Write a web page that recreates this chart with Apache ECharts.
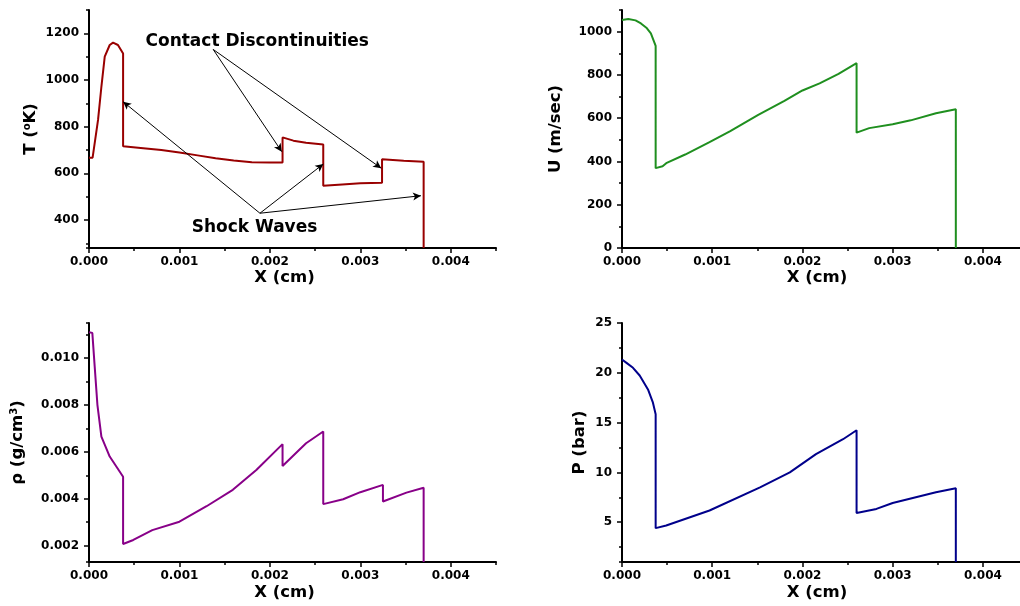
<!DOCTYPE html>
<html><head><meta charset="utf-8">
<script src="https://cdn.jsdelivr.net/npm/echarts@6/dist/echarts.min.js"></script>
<style>html,body{margin:0;padding:0;background:#fff}#c{width:1020px;height:606px}</style>
</head><body><div id="c"></div>
<script>
// ---------- data (x in cm) ----------
const tempData = [[0,667],[0.00004,667],[0.0001,829],[0.000137,971],[0.000174,1100],[0.000229,1150],[0.000266,1160],[0.00032,1150],[0.000377,1114],
  [0.000377,716],[0.0006,708],[0.0008,700],[0.001,689],[0.0012,677],[0.0014,665],[0.0016,655],[0.0018,648],[0.002,646],[0.00214,646],
  [0.00214,754],[0.00226,740],[0.0024,731],[0.00259,724],[0.00259,547],[0.0028,552],[0.003,557],[0.00324,560],
  [0.00324,660],[0.00348,654],[0.0037,650],[0.0037,280]];
const velData = [[0,1054],[0.00007,1058],[0.00015,1052],[0.00021,1038],[0.00027,1018],[0.00032,992],[0.000373,934],
  [0.000373,369],[0.00045,378],[0.00049,392],[0.0007,432],[0.00097,489],[0.0012,540],[0.00151,615],[0.0018,680],[0.002,728],[0.00219,761],[0.0024,805],[0.0026,854],
  [0.0026,533],[0.00274,554],[0.003,572],[0.0032,590],[0.00348,623],[0.0037,641],[0.0037,0]];
const rhoData = [[0,0.01111],[0.000037,0.01107],[0.000063,0.00964],[0.000093,0.00801],[0.000137,0.00665],[0.000229,0.0058],[0.000377,0.00494],
  [0.000377,0.00207],[0.00049,0.00224],[0.0007,0.00266],[0.001,0.00302],[0.0013,0.00368],[0.00159,0.00438],[0.00185,0.00523],[0.00214,0.00633],
  [0.00214,0.0054],[0.0024,0.00637],[0.00259,0.00687],[0.00259,0.00377],[0.00281,0.00398],[0.003,0.00428],[0.00325,0.00459],
  [0.00325,0.00388],[0.00351,0.00426],[0.0037,0.00447],[0.0037,0.0013]];
const presData = [[0,21.33],[0.00005,21.0],[0.000122,20.5],[0.000196,19.73],[0.000288,18.33],[0.000343,17.0],[0.000373,15.83],
  [0.000373,4.4],[0.00049,4.67],[0.00097,6.17],[0.00153,8.5],[0.00186,10.0],[0.00215,11.83],[0.00245,13.33],[0.0026,14.23],
  [0.0026,5.93],[0.00282,6.33],[0.003,6.93],[0.00348,8.0],[0.0037,8.4],[0.0037,1]];

// annotation arrows on T panel: [from, to] in data coords
const contactOrigin = [0.001373, 1131];
const contactTips = [[0.002131, 693],[0.003231, 622]];
const shockOrigin = [0.00189, 429];
const shockTips = [[0.000377, 907],[0.002591, 640],[0.00367, 504]];
const contactLabelPos = [0.00186, 1164];
const shockLabelPos = [0.00183, 369];

const xMin = 0, xMax = 0.0045, xMajor = 0.001, xMinor = 0.0005;
const panels = [
  {name:'T ({sup|o}K)', data: tempData, color:'#990000', min:280, max:1300, major:200, minor:100, dec:0, gap:49, showMin:false, showMax:false},
  {name:'U (m/sec)', data: velData, color:'#1f8f1f', min:0, max:1100, major:200, minor:100, dec:0, gap:57, showMin:true, showMax:false},
  {name:'ρ (g/cm{sup|3})', data: rhoData, color:'#880088', min:0.0013, max:0.0115, major:0.002, minor:0.001, dec:3, gap:62, showMin:false, showMax:false},
  {name:'P (bar)', data: presData, color:'#00008b', min:1, max:25, major:5, minor:2.5, dec:0, gap:33, showMin:false, showMax:true}
];

const FONT = 'DejaVu Sans';
const grids = [
  {left:89, top:10, right:524, bottom:358},
  {left:622, top:10, right:-8, bottom:358},
  {left:89, top:323, right:524, bottom:44},
  {left:622, top:323, right:-8, bottom:44}
].map(g => Object.assign({containLabel:false, outerBoundsMode:'none'}, g));

const titleStyle = {fontFamily:FONT, fontWeight:'bold', fontSize:16.5, color:'#000'};
const noteStyle = {fontFamily:FONT, fontWeight:'bold', fontSize:17, color:'#000'};
const tickStyle = {fontFamily:FONT, fontWeight:'bold', fontSize:12, color:'#000'};
const supStyle = {fontFamily:FONT, fontWeight:'bold', fontSize:10, color:'#000', lineHeight:6, verticalAlign:'top'};

const xAxis = [], yAxis = [], series = [];
panels.forEach((p, gi) => {
  xAxis.push({type:'value', gridIndex:gi, min:xMin, max:xMax, position:'bottom', minInterval:xMajor, maxInterval:xMajor,
    name:'X (cm)', nameLocation:'middle', nameGap: gi < 2 ? 21 : 22, nameMoveOverlap:false,
    nameTextStyle:Object.assign({padding:[0,16,0,0]}, titleStyle),
    splitLine:{show:false},
    axisLine:{show:true, onZero:false, lineStyle:{color:'#000', width:2}},
    axisTick:{show:true, length:5, lineStyle:{color:'#000', width:1.5}},
    axisLabel:Object.assign({margin:8, showMaxLabel:false, formatter: v => v.toFixed(3)}, tickStyle)});
  xAxis.push({type:'value', gridIndex:gi, min:xMin, max:xMax, position:'bottom', minInterval:xMinor, maxInterval:xMinor,
    splitLine:{show:false}, axisLine:{show:false, onZero:false},
    axisTick:{show:true, length:3, lineStyle:{color:'#000', width:1.5}}, axisLabel:{show:false}});
  yAxis.push({type:'value', gridIndex:gi, min:p.min, max:p.max, position:'left', minInterval:p.major, maxInterval:p.major,
    name:p.name, nameLocation:'middle', nameGap:p.gap, nameMoveOverlap:false,
    nameTextStyle:Object.assign({lineHeight:18, rich:{sup:supStyle}}, titleStyle),
    splitLine:{show:false},
    axisLine:{show:true, onZero:false, lineStyle:{color:'#000', width:2}},
    axisTick:{show:true, length:5, lineStyle:{color:'#000', width:1.5}},
    axisLabel:Object.assign({margin:10, showMinLabel:p.showMin, showMaxLabel:p.showMax, formatter: v => v.toFixed(p.dec)}, tickStyle)});
  yAxis.push({type:'value', gridIndex:gi, min:p.min, max:p.max, position:'left', minInterval:p.minor, maxInterval:p.minor,
    splitLine:{show:false}, axisLine:{show:false, onZero:false},
    axisTick:{show:true, length:3, lineStyle:{color:'#000', width:1.5}}, axisLabel:{show:false}});
  const s = {type:'line', xAxisIndex:2*gi, yAxisIndex:2*gi, data:p.data, showSymbol:false, symbol:'none',
    lineStyle:{color:p.color, width:2}, itemStyle:{color:p.color}, clip:true, silent:true, animation:false};
  if (gi === 0) {
    const arrows = [];
    contactTips.forEach(t => arrows.push([{coord:contactOrigin}, {coord:t}]));
    shockTips.forEach(t => arrows.push([{coord:shockOrigin}, {coord:t}]));
    s.markLine = {silent:true, animation:false, symbol:['none','arrow'], symbolSize:[6,8], precision:6,
      lineStyle:{color:'#000', width:1, type:'solid'}, label:{show:false}, emphasis:{disabled:true}, data:arrows};
    s.markPoint = {silent:true, animation:false, symbol:'rect', symbolSize:1, itemStyle:{color:'rgba(0,0,0,0)'},
      label:Object.assign({show:true, position:'inside', formatter:'{b}'}, noteStyle),
      data:[{name:'Contact Discontinuities', coord:contactLabelPos}, {name:'Shock Waves', coord:shockLabelPos}]};
  }
  series.push(s);
});

const chart = echarts.init(document.getElementById('c'), null, {renderer:'canvas'});
chart.setOption({animation:false, backgroundColor:'#fff', grid:grids, xAxis, yAxis, series});
</script>
</body></html>
